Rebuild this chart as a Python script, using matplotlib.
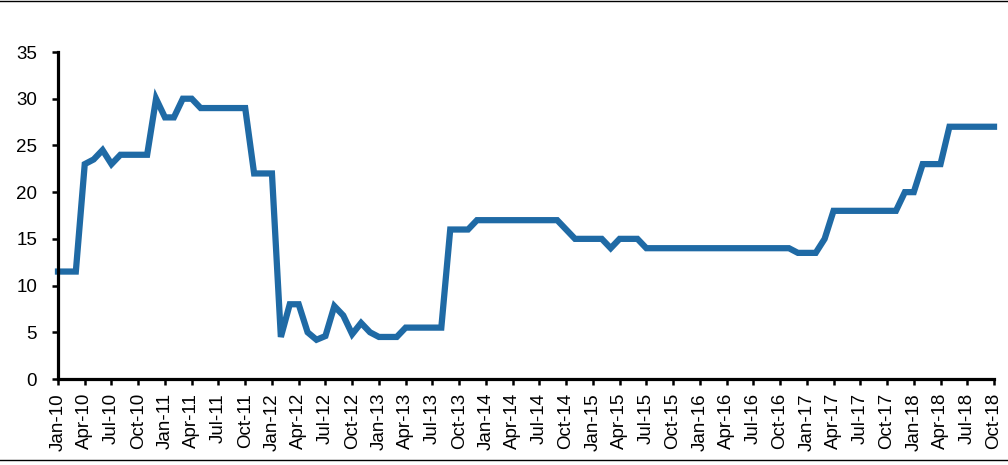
import matplotlib
matplotlib.use('Agg')
import matplotlib.pyplot as plt
from matplotlib.lines import Line2D
import numpy as np
import pandas as pd

plt.rcParams['font.family'] = ['Liberation Sans', 'DejaVu Sans']

# monthly series, Jan-10 .. Oct-18
months = pd.date_range('2010-01-01', '2018-10-01', freq='MS')
values = [
    11.5, 11.5, 11.5, 23, 23.5, 24.5, 23, 24, 24, 24, 24, 30,      # 2010
    28, 28, 30, 30, 29, 29, 29, 29, 29, 29, 22, 22,                # 2011
    22, 4.5, 8, 8, 5, 4.2, 4.6, 7.8, 6.8, 4.8, 6, 5,               # 2012
    4.5, 4.5, 4.5, 5.5, 5.5, 5.5, 5.5, 5.5, 16, 16, 16, 17,        # 2013
    17, 17, 17, 17, 17, 17, 17, 17, 17, 16, 15, 15,                # 2014
    15, 15, 14, 15, 15, 15, 14, 14, 14, 14, 14, 14,                # 2015
    14, 14, 14, 14, 14, 14, 14, 14, 14, 14, 14, 13.5,              # 2016
    13.5, 13.5, 15, 18, 18, 18, 18, 18, 18, 18, 18, 20,            # 2017
    20, 23, 23, 23, 27, 27, 27, 27, 27, 27,                        # 2018
]
month_labels = [m.strftime('%b-%y') for m in months]
y_ticks = [0, 5, 10, 15, 20, 25, 30, 35]

x = np.arange(len(months))

fig = plt.figure(figsize=(10.08, 4.65), dpi=100)
ax = fig.add_axes([58 / 1008, 1 - 379 / 465, (994 - 58) / 1008, (379 - 52) / 465])

ax.plot(x, values, color='#1f6aa5', lw=4.5, solid_joinstyle='miter', clip_on=False)

ax.set_xlim(0, len(months) - 1)
ax.set_ylim(0, 35)
ax.set_yticks(y_ticks)
ax.set_xticks(x[::3])
ax.set_xticklabels(month_labels[::3], rotation=90)

for side in ['top', 'right']:
    ax.spines[side].set_visible(False)
for side in ['left', 'bottom']:
    ax.spines[side].set_linewidth(2.3)
    ax.spines[side].set_color('black')
ax.tick_params(axis='both', direction='out', length=4, width=1.8, labelsize=13.5,
               colors='black')
ax.tick_params(axis='x', pad=6)
ax.tick_params(axis='y', pad=11)

# horizontal rules across the figure
fig.add_artist(Line2D([0, 1], [1 - 1.5 / 465] * 2, color='black', lw=1.0))
fig.add_artist(Line2D([0, 1], [1 - 459.5 / 465] * 2, color='black', lw=1.0))

fig.savefig('out.png', dpi=100)
